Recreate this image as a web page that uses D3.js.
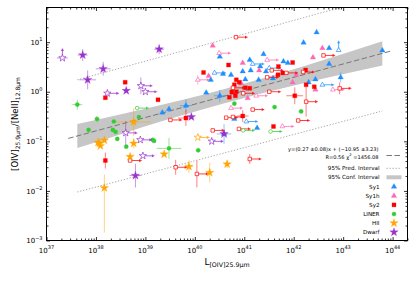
<!DOCTYPE html>
<html>
<head>
<meta charset="utf-8">
<script src="https://cdn.jsdelivr.net/npm/d3@7"></script>
<style>
  body { margin: 0; background: #fff; }
  svg { font-family: "DejaVu Sans", sans-serif; }
</style>
</head>
<body>
<script>
// axis ranges and tick labels (exponents of 10)
var xDomain = [1e37, 2e44];
var yDomain = [1e-3, 50];
var xTickExp = [37, 38, 39, 40, 41, 42, 43, 44];
var yTickExp = [-3, -2, -1, 0, 1];

// points: [L_OIV, ratio, kind, xerr(dex), yerr(dex or [lo,hi])]
// kind 0 = detection, 1 = lower limit on L (arrow right), 2 = lower limit on ratio (arrow up)
var sy1 = [
  [2.2e39,0.38,0],[3.0e39,0.447,0],[6.6e39,0.525,0,0.12,0.12],[1.7e40,0.955,0],[3.2e40,0.83,0,0.12,0.12],
  [3.2e40,5.1,0],[2.45e41,5.75,0],[1.29e41,4.37,0],[2.1e41,3.24,0],[6.2e41,4.07,0],
  [2.75e41,2.57,0],[9.3e40,2.57,0],[2.1e40,1.74,0],[5.4e40,2.19,0],[1.05e41,1.78,0],
  [3.8e41,1.86,0],[6.3e40,0.282,0],[1.82e41,0.186,0],[2.9e42,15.8,0],[1.58e42,9.8,0],
  [5.2e42,7.6,0],[6.2e43,6.8,0],[7.6e41,3.8,0],[5.2e42,3.63,0],[2.0e42,1.55,0],
  [2.75e42,1.78,0],[8.9e42,1.95,0,0,0.1],[1.35e41,2.69,0],[3.7e40,2.29,0],[1.95e41,1.74,0],
  [3.9e40,0.141,0,0.15,0.2],
  [8.1e42,6.9,2],[2.5e40,2.4,1],[3.2e41,3.0,1],[1.1e41,0.251,1],[1.48e41,3.63,1],[3.8e42,1.38,1]
];
var sy1h = [
  [2.3e40,8.5,0],[3.8e42,7.6,0],[2.45e42,4.9,0],[9.3e40,3.8,0],[1.9e40,2.09,0],
  [8.7e40,1.48,0],[1.17e41,0.74,0],[2.0e41,2.69,0],[1.12e42,2.19,0],[9.5e41,1.55,0],[2.75e42,1.1,0],
  [3.1e40,6.0,1],[2.9e41,4.37,1],[1.15e40,1.74,1,0,0.1],[1.74e41,0.83,1],[5.4e40,0.468,1],
  [6.2e42,1.1,1],[5.9e41,0.20,1]
];
var sy2 = [
  [3.9e38,1.55,0],[1.55e38,0.76,0],[1.8e39,0.69,0],[1.55e38,0.041,0,0,0.16],[6.6e39,0.295,0,0.16,0.16],
  [4.8e40,3.47,0],[1.5e40,2.45,0],[6.9e40,1.74,0],[7.9e40,1.55,0],[6.3e40,1.38,0],
  [5.0e40,0.776,0],[6.6e40,0.83,0],[1.29e41,1.17,0],[9.3e40,0.324,0,0.12,0.12],[3.9e41,0.20,0],
  [4.8e41,2.19,0],[6.0e41,2.4,0],[9.5e41,3.89,0],[1.74e42,2.75,0],[1.78e42,1.38,0],
  [2.6e42,1.26,0],[1.05e42,0.83,0,0.17,0.17],[4.9e41,3.24,0],[6.9e40,1.0,0],[1.05e41,1.2,0],[5.6e40,0.99,0],
  [6.8e40,12.6,1],[4.0e42,5.4,1],[1.55e42,2.5,1],[7.1e41,2.4,1],[3.6e41,2.7,1],
  [2.9e41,1.95,1],[8.5e42,1.17,1,0,0.12],[1.78e42,0.63,1,0,0.3],[1.23e42,0.263,1],[3.2e41,1.0,1],
  [1.48e41,0.437,1],[4.3e40,0.30,1],[2.3e40,0.166,1],[7.8e40,0.178,1],[3.2e39,0.27,1],
  [4.9e38,0.041,1],[4.1e39,0.030,1,0,0.15],[1.1e40,0.022,1,0,0.27],[1.29e41,0.044,1,0,0.1],
  [5.9e40,1.2,1],[9.5e40,0.93,1],[5.9e40,0.31,1]
];
var liner = [
  [4.2e37,0.55,0,0.1,0.1],[1.05e38,0.282,0,0.05,0.06],[2.3e38,0.251,0],[7.4e38,0.309,0],[7.1e37,0.170,0],
  [2.2e38,0.170,0],[2.5e38,0.155,0],[2.7e38,0.112,0],[4.1e38,0.078,0],[6.8e38,0.468,1],
  [1.4e39,0.107,0],[1.5e39,0.102,0],[3.0e39,0.072,0,0.25,0.21],[1.17e40,0.066,0],[6.3e40,0.575,0],
  [4.1e41,0.49,0],[3.4e41,0.158,1],[1.41e42,0.40,0],[9.5e40,0.166,1]
];
var hii = [
  [5.8e38,0.245,0,0.35,0.28],[5.8e38,0.091,0,0,0.1],[1.17e38,0.091,0],[1.48e38,0.105,0],[1.10e38,0.095,0],
  [1.23e38,0.081,0],[4.9e38,0.049,0],[2.4e39,0.055,0],[1.48e38,0.0115,0,0,[0.9,0.27]],[1.15e40,0.120,1],
  [7.6e39,0.031,0,0.08,0.13],[2.0e40,0.0234,0,0,0.2],[4.5e40,0.0347,0,0,0.08]
];
var dwarf = [
  [2.1e37,4.8,2,0.11],[5.4e37,5.5,0,0.1,0.12],[1.4e38,2.9,0,0.15,0.14],[6.8e37,1.74,0,0.17,0.19],
  [1.9e39,7.2,0,0.1,0.1],[1.7e38,0.93,1],[4.1e38,1.05,0],[8.1e38,1.32,1,0,0.17],[1.0e39,1.0,1],
  [4.0e38,0.148,1,0,0.24],[7.9e38,0.107,1],[8.9e38,0.051,1],[6.3e38,0.0204,0,0.12,0.24],
  [8.5e39,0.31,0],[2.2e40,0.100,1],[3.9e40,0.141,0]
];

// linear fit in log space, confidence band and prediction interval
var fitSlope = 0.27, fitIntercept = -11.05;
var fitRange = [2.75e37, 9.3e43];
var bandL  = [4.2e37, 3.2e38, 2.5e39, 1.6e40, 1e41, 6.3e41, 4.0e42, 6.2e43];
var bandLo = [0.073, 0.139, 0.265, 0.455, 0.752, 1.19, 1.84, 3.37];
var bandHi = [0.224, 0.352, 0.566, 0.891, 1.46, 2.48, 4.37, 10.4];
var predL  = [4.2e37, 6.2e43];
var predLo = [0.0095, 0.41];
var predHi = [1.74, 85];

var groups = [
  {name: "Sy1",   data: sy1,   color: "#1e8fff", shape: d3.symbolTriangle, size: 13},
  {name: "Sy1h",  data: sy1h,  color: "#ff69b4", shape: d3.symbolTriangle, size: 13},
  {name: "Sy2",   data: sy2,   color: "#ff0000", shape: d3.symbolSquare,   size: 16},
  {name: "LINER", data: liner, color: "#32cd32", shape: d3.symbolCircle,   size: 14},
  {name: "HII",   data: hii,   color: "#ffa500", shape: d3.symbolStar,     size: 22},
  {name: "Dwarf", data: dwarf, color: "#9932cc", shape: d3.symbolStar,     size: 22}
];

var margin = {top: 7.5, right: 7.5, bottom: 41.5, left: 46.5},
    width = 415 - margin.left - margin.right,
    height = 282 - margin.top - margin.bottom;

var svg = d3.select("body").append("svg").attr("width", 415).attr("height", 282),
    g = svg.append("g").attr("transform", "translate(" + margin.left + "," + margin.top + ")");

var x = d3.scaleLog().domain(xDomain).range([0, width]),
    y = d3.scaleLog().domain(yDomain).range([height, 0]);

svg.append("defs").append("clipPath").attr("id", "clip")
  .append("rect").attr("width", width).attr("height", height);

var plot = g.append("g").attr("clip-path", "url(#clip)");

// confidence band
var band = bandL.map(function(l, i) { return [l, bandLo[i], bandHi[i]]; });
plot.append("path")
  .datum(band)
  .attr("fill", "#c6c6c6")
  .attr("d", d3.area().curve(d3.curveMonotoneX)
    .x(function(d) { return x(d[0]); })
    .y0(function(d) { return y(d[1]); })
    .y1(function(d) { return y(d[2]); }));

// prediction interval
[predLo, predHi].forEach(function(arr) {
  plot.append("path")
    .datum(predL.map(function(l, i) { return [l, arr[i]]; }))
    .attr("fill", "none").attr("stroke", "#aaa").attr("stroke-width", 1)
    .attr("stroke-dasharray", "1.3,1.7")
    .attr("d", d3.line().x(function(d) { return x(d[0]); }).y(function(d) { return y(d[1]); }));
});

// fit line
var fitPts = fitRange.map(function(l) { return [l, Math.pow(10, fitSlope * Math.log10(l) + fitIntercept)]; });
plot.append("path")
  .datum(fitPts)
  .attr("fill", "none").attr("stroke", "#777").attr("stroke-width", 1)
  .attr("stroke-dasharray", "5.5,2.5")
  .attr("d", d3.line().x(function(d) { return x(d[0]); }).y(function(d) { return y(d[1]); }));

// points
var ARROW = 12, UPARROW = 10;
groups.forEach(function(grp) {
  var layer = plot.append("g");
  grp.data.forEach(function(p) {
    var px = x(p[0]), py = y(p[1]);
    var xe = p[3] || 0, ye = p[4] || 0;
    var eb = layer.append("g").attr("stroke", grp.color).attr("stroke-opacity", 0.5).attr("stroke-width", 1);
    if (xe) eb.append("line").attr("x1", x(p[0] / Math.pow(10, xe))).attr("x2", x(p[0] * Math.pow(10, xe)))
      .attr("y1", py).attr("y2", py);
    if (ye) {
      var lo = Array.isArray(ye) ? ye[0] : ye, hi = Array.isArray(ye) ? ye[1] : ye;
      eb.append("line").attr("x1", px).attr("x2", px)
        .attr("y1", y(p[1] / Math.pow(10, lo))).attr("y2", y(p[1] * Math.pow(10, hi)));
    }
    if (p[2] === 1) {
      layer.append("line").attr("x1", px).attr("x2", px + ARROW - 2).attr("y1", py).attr("y2", py)
        .attr("stroke", grp.color).attr("stroke-opacity", 0.75).attr("stroke-width", 1);
      layer.append("path").attr("d", "M" + (px + ARROW) + "," + py + "l-3,-1.6v3.2z")
        .attr("fill", grp.color).attr("fill-opacity", 0.8);
    } else if (p[2] === 2) {
      layer.append("line").attr("x1", px).attr("x2", px).attr("y1", py).attr("y2", py - UPARROW + 2)
        .attr("stroke", grp.color).attr("stroke-opacity", 0.75).attr("stroke-width", 1);
      layer.append("path").attr("d", "M" + px + "," + (py - UPARROW) + "l-1.6,3h3.2z")
        .attr("fill", grp.color).attr("fill-opacity", 0.8);
    }
    layer.append("path")
      .attr("transform", "translate(" + px + "," + py + ")")
      .attr("d", d3.symbol().type(grp.shape).size(p[2] ? grp.size * 0.75 : grp.size)())
      .attr("fill", p[2] ? "#fff" : grp.color)
      .attr("stroke", grp.color)
      .attr("stroke-width", p[2] ? 0.7 : 0.3);
  });
});

// ticks, pointing inward on all four sides
function isMajor(v) { var e = Math.log10(v); return Math.abs(e - Math.round(e)) < 1e-6; }
var xt = x.ticks(), yt = y.ticks();
var xMaj = xt.filter(isMajor), xMin = xt.filter(function(v) { return !isMajor(v); });
var yMaj = yt.filter(isMajor), yMin = yt.filter(function(v) { return !isMajor(v); });

function tickAxis(axis, tr, vals, len) {
  g.append("g").attr("transform", tr)
    .call(axis.tickValues(vals).tickSize(-len).tickSizeOuter(0).tickFormat(""))
    .call(function(s) { s.select(".domain").remove(); s.selectAll("line").attr("stroke-width", 0.8); });
}
tickAxis(d3.axisBottom(x), "translate(0," + height + ")", xMaj, 3.5);
tickAxis(d3.axisBottom(x), "translate(0," + height + ")", xMin, 2);
tickAxis(d3.axisTop(x), "translate(0,0)", xMaj, 3.5);
tickAxis(d3.axisTop(x), "translate(0,0)", xMin, 2);
tickAxis(d3.axisLeft(y), "translate(0,0)", yMaj, 3.5);
tickAxis(d3.axisLeft(y), "translate(0,0)", yMin, 2);
tickAxis(d3.axisRight(y), "translate(" + width + ",0)", yMaj, 3.5);
tickAxis(d3.axisRight(y), "translate(" + width + ",0)", yMin, 2);

g.append("rect").attr("width", width).attr("height", height)
  .attr("fill", "none").attr("stroke", "#000").attr("stroke-width", 1);

// tick labels
function expText(sel) {
  sel.append("tspan").text("10");
  sel.append("tspan").attr("font-size", 5).attr("dy", -3.6)
    .text(function(e) { return String(e).replace("-", "\u2212"); });
}
g.selectAll(".xl").data(xTickExp).join("text")
  .attr("x", function(e) { return x(Math.pow(10, e)); })
  .attr("y", height + 12).attr("text-anchor", "middle").attr("font-size", 7)
  .call(expText);
g.selectAll(".yl").data(yTickExp).join("text")
  .attr("x", -4).attr("y", function(e) { return y(Math.pow(10, e)) + 2.6; })
  .attr("text-anchor", "end").attr("font-size", 7)
  .call(expText);

// axis titles
var xl = svg.append("text").attr("x", margin.left + width / 2).attr("y", 264.5)
  .attr("text-anchor", "middle").attr("font-size", 9);
xl.append("tspan").text("L");
xl.append("tspan").attr("font-size", 6.3).attr("dy", 2).text("[OIV]25.9\u03bcm");

var yl = svg.append("text").attr("transform", "translate(18," + (margin.top + height / 2) + ") rotate(-90)")
  .attr("text-anchor", "middle").attr("font-size", 8.5);
yl.append("tspan").text("[OIV]");
yl.append("tspan").attr("font-size", 6).attr("dy", 2).text("25.9\u03bcm");
yl.append("tspan").attr("dy", -2).text("/[NeII]");
yl.append("tspan").attr("font-size", 6).attr("dy", 2).text("12.8\u03bcm");

// legend
var lg = g.append("g").attr("font-size", 5.6);
var lx = 333, sx0 = 340, sx1 = 355;
lg.append("text").attr("x", lx - 1).attr("y", 143).attr("text-anchor", "end").attr("font-size", 5.1)
  .text("y=(0.27 \u00b10.08)x + (\u221210.95 \u00b13.23)");
var l2 = lg.append("text").attr("x", lx - 1).attr("y", 151).attr("text-anchor", "end").attr("font-size", 5.1);
l2.append("tspan").text("R=0.56  \u03c7");
l2.append("tspan").attr("font-size", 3.8).attr("dy", -2.2).text("2");
l2.append("tspan").attr("dy", 2.2).text(" =1456.08");
lg.append("line").attr("x1", sx0).attr("x2", sx1).attr("y1", 148).attr("y2", 148)
  .attr("stroke", "#777").attr("stroke-width", 1).attr("stroke-dasharray", "5.5,2.5");
lg.append("text").attr("x", lx).attr("y", 162.8).attr("text-anchor", "end").text("95% Pred. Interval");
lg.append("line").attr("x1", sx0).attr("x2", sx1).attr("y1", 160.8).attr("y2", 160.8)
  .attr("stroke", "#aaa").attr("stroke-width", 1).attr("stroke-dasharray", "1.3,1.7");
lg.append("text").attr("x", lx).attr("y", 171.8).attr("text-anchor", "end").text("95% Conf. Interval");
lg.append("rect").attr("x", sx0).attr("y", 167.8).attr("width", sx1 - sx0).attr("height", 4).attr("fill", "#c6c6c6");

groups.forEach(function(grp, i) {
  var by = 181.2 + i * 9.1;
  lg.append("text").attr("x", lx).attr("y", by).attr("text-anchor", "end").text(grp.name);
  lg.append("path").attr("transform", "translate(" + (sx0 + sx1) / 2 + "," + (by - 2) + ")")
    .attr("d", d3.symbol().type(grp.shape).size(grp.size)())
    .attr("fill", grp.color).attr("stroke", grp.color).attr("stroke-width", 0.3);
});
</script>
</body>
</html>
